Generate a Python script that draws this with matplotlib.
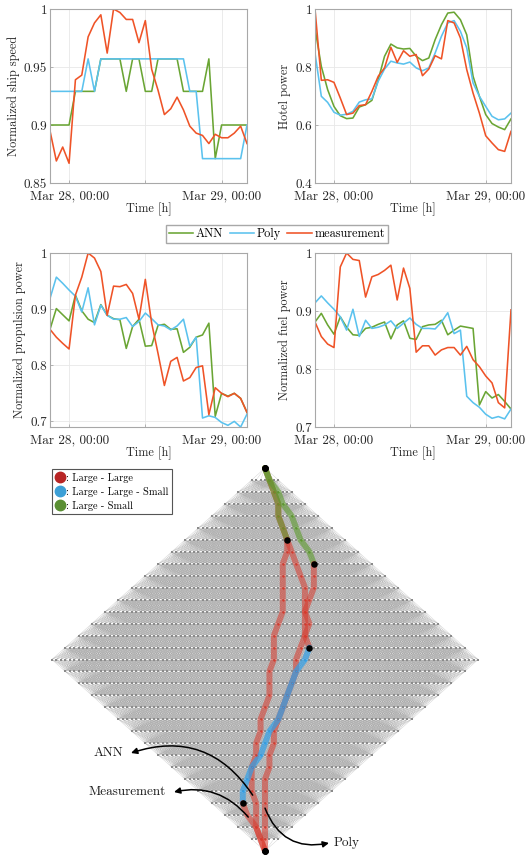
import numpy as np
import matplotlib
matplotlib.use('Agg')
import matplotlib.pyplot as plt
from matplotlib.collections import LineCollection
from matplotlib.lines import Line2D

plt.rcParams['font.family'] = ['cmr10', 'DejaVu Serif']
plt.rcParams['axes.unicode_minus'] = False
plt.rcParams['mathtext.fontset'] = 'cm'

# ---------------- data ----------------
hours = list(range(-3, 29))
xtick_pos = [0, 12, 24]
xtick_labels = ['Mar 28, 00:00', '', 'Mar 29, 00:00']
series_names = ['ANN', 'Poly', 'measurement']

speed_ann = [0.9, 0.9, 0.9, 0.9, 0.929, 0.929, 0.929, 0.929, 0.957, 0.957, 0.957, 0.957,
             0.929, 0.957, 0.957, 0.929, 0.929, 0.957, 0.957, 0.957, 0.957, 0.929, 0.929,
             0.929, 0.929, 0.957, 0.871, 0.9, 0.9, 0.9, 0.9, 0.9]
speed_poly = [0.929, 0.929, 0.929, 0.929, 0.929, 0.929, 0.957, 0.929, 0.957, 0.957, 0.957,
              0.957, 0.957, 0.957, 0.957, 0.957, 0.957, 0.957, 0.957, 0.957, 0.957, 0.957,
              0.929, 0.929, 0.871, 0.871, 0.871, 0.871, 0.871, 0.871, 0.871, 0.9]
speed_meas = [0.895, 0.869, 0.881, 0.867, 0.939, 0.943, 0.976, 0.988, 0.995, 0.962, 1.0,
              0.997, 0.991, 0.991, 0.971, 0.990, 0.948, 0.930, 0.909, 0.914, 0.924, 0.913,
              0.899, 0.893, 0.891, 0.884, 0.892, 0.889, 0.889, 0.893, 0.899, 0.884]

hotel_ann = [0.934, 0.802, 0.722, 0.664, 0.632, 0.622, 0.624, 0.662, 0.670, 0.685, 0.756,
             0.837, 0.879, 0.866, 0.862, 0.864, 0.837, 0.822, 0.831, 0.894, 0.946, 0.986,
             0.989, 0.963, 0.911, 0.768, 0.699, 0.636, 0.605, 0.593, 0.584, 0.621]
hotel_poly = [0.848, 0.699, 0.678, 0.644, 0.634, 0.637, 0.647, 0.679, 0.687, 0.690, 0.751,
              0.793, 0.820, 0.814, 0.810, 0.817, 0.797, 0.787, 0.797, 0.848, 0.906, 0.952,
              0.960, 0.923, 0.866, 0.745, 0.699, 0.664, 0.630, 0.618, 0.621, 0.641]
hotel_meas = [1.0, 0.754, 0.756, 0.747, 0.693, 0.636, 0.641, 0.667, 0.670, 0.716, 0.768,
              0.797, 0.868, 0.816, 0.856, 0.837, 0.843, 0.770, 0.793, 0.839, 0.828, 0.960,
              0.952, 0.900, 0.791, 0.710, 0.641, 0.563, 0.538, 0.515, 0.509, 0.578]

prop_ann = [0.864, 0.901, 0.890, 0.879, 0.925, 0.897, 0.882, 0.876, 0.908, 0.889, 0.883,
            0.881, 0.830, 0.869, 0.882, 0.834, 0.835, 0.871, 0.873, 0.864, 0.865, 0.823,
            0.832, 0.850, 0.854, 0.875, 0.709, 0.750, 0.745, 0.750, 0.741, 0.716]
prop_poly = [0.919, 0.957, 0.946, 0.934, 0.923, 0.895, 0.938, 0.872, 0.907, 0.889, 0.882,
             0.882, 0.885, 0.869, 0.878, 0.893, 0.883, 0.872, 0.870, 0.863, 0.870, 0.882,
             0.834, 0.850, 0.706, 0.710, 0.707, 0.698, 0.693, 0.700, 0.690, 0.713]
prop_meas = [0.864, 0.850, 0.839, 0.829, 0.925, 0.957, 1.0, 0.991, 0.967, 0.889, 0.941,
             0.940, 0.944, 0.928, 0.882, 0.953, 0.875, 0.821, 0.764, 0.807, 0.814, 0.772,
             0.778, 0.796, 0.799, 0.712, 0.760, 0.750, 0.744, 0.750, 0.741, 0.716]

fuel_ann = [0.881, 0.896, 0.876, 0.860, 0.890, 0.872, 0.859, 0.858, 0.870, 0.872, 0.877,
            0.881, 0.852, 0.876, 0.883, 0.853, 0.851, 0.873, 0.876, 0.877, 0.884, 0.859,
            0.867, 0.874, 0.872, 0.870, 0.738, 0.761, 0.750, 0.756, 0.744, 0.731]
fuel_poly = [0.914, 0.926, 0.914, 0.903, 0.890, 0.867, 0.903, 0.856, 0.884, 0.870, 0.872,
             0.876, 0.883, 0.870, 0.879, 0.888, 0.877, 0.870, 0.870, 0.869, 0.881, 0.897,
             0.861, 0.867, 0.753, 0.742, 0.734, 0.722, 0.715, 0.718, 0.714, 0.731]
fuel_meas = [0.881, 0.856, 0.843, 0.837, 0.976, 1.0, 0.989, 0.987, 0.924, 0.959, 0.963,
             0.970, 0.979, 0.919, 0.974, 0.939, 0.829, 0.840, 0.840, 0.824, 0.833, 0.837,
             0.837, 0.824, 0.839, 0.816, 0.804, 0.788, 0.776, 0.742, 0.733, 0.902]

# decision-graph paths: node index (relative to row centre) for each of the 33 stages
path_meas = [0, 1, 3, 4, 6, 7, 8, 10, 11, 11, 11, 10, 9, 9, 9, 10, 9, 7, 6, 5, 4, 3, 1,
             0, -1, -3, -4, -5, -5, -4, -2, -1, 0]
path_ann = [0, 1, 2, 3, 3, 4, 5, 5, 4, 4, 4, 4, 4, 3, 2, 2, 2, 1, 1, 1, 0, -1, -1, -2,
            -2, -3, -3, -3, -2, -2, -2, -1, 0]
path_poly = [0, 1, 2, 3, 3, 4, 5, 6, 7, 8, 9, 9, 9, 10, 9, 8, 7, 7, 6, 5, 4, 3, 2, 2, 1,
             1, 0, 0, 0, 0, 0, 0, 0]
# operating-mode runs along each path: (mode, first stage, last stage)
modes_meas = [('LS', 0, 8), ('LL', 8, 15), ('LLS', 15, 28), ('LL', 28, 32)]
modes_ann = [('LS', 0, 6), ('LL', 6, 32)]
modes_poly = [('LL', 0, 32)]
mode_labels = {'LL': ': Large - Large', 'LLS': ': Large - Large - Small', 'LS': ': Large - Small'}

# ---------------- style ----------------
C_ANN, C_POLY, C_MEAS = '#6aa534', '#5bc2ee', '#ef5327'
MODE_COL = {'LL': '#d8392c', 'LLS': '#2c9fea', 'LS': '#5c9a2c'}
MODE_ALPHA = {'LL': 0.55, 'LLS': 0.68, 'LS': 0.6}
MODE_LEG = {'LL': '#b82525', 'LLS': '#3c9fd6', 'LS': '#5a8f33'}
FRAME = '#a8a8a8'

W, H = 525, 856
fig = plt.figure(figsize=(W / 100, H / 100), dpi=100)


def px_axes(l, t, r, b):
    return fig.add_axes([l / W, 1 - b / H, (r - l) / W, (b - t) / H])


panels = [
    ((50, 9, 247, 183), 'Normalized ship speed', speed_ann, speed_poly, speed_meas,
     (0.85, 1.0), [0.85, 0.9, 0.95, 1.0], ['0.85', '0.9', '0.95', '1']),
    ((315, 9, 511, 183), 'Hotel power', hotel_ann, hotel_poly, hotel_meas,
     (0.4, 1.0), [0.4, 0.6, 0.8, 1.0], ['0.4', '0.6', '0.8', '1']),
    ((50, 253, 247, 427), 'Normalized propulsion power', prop_ann, prop_poly, prop_meas,
     (0.69, 1.0), [0.7, 0.8, 0.9, 1.0], ['0.7', '0.8', '0.9', '1']),
    ((315, 253, 511, 427), 'Normalized fuel power', fuel_ann, fuel_poly, fuel_meas,
     (0.7, 1.0), [0.7, 0.8, 0.9, 1.0], ['0.7', '0.8', '0.9', '1']),
]

handles = None
for box, ylab, a, p, m, ylim, yt, ytl in panels:
    ax = px_axes(*box)
    h1, = ax.plot(hours, a, color=C_ANN, lw=1.15)
    h2, = ax.plot(hours, p, color=C_POLY, lw=1.15)
    h3, = ax.plot(hours, m, color=C_MEAS, lw=1.15)
    handles = [h1, h2, h3]
    ax.set_xlim(hours[0], hours[-1])
    ax.set_ylim(*ylim)
    ax.set_xticks(xtick_pos)
    ax.set_xticklabels(xtick_labels)
    ax.set_yticks(yt)
    ax.set_yticklabels(ytl)
    ax.grid(True, color='#e8e8e8', lw=0.6)
    ax.set_axisbelow(True)
    for s in ax.spines.values():
        s.set_color(FRAME)
        s.set_linewidth(0.8)
    ax.tick_params(direction='in', length=2.5, width=0.6, color=FRAME,
                   labelsize=9.5, labelcolor='#262626', pad=2)
    ax.tick_params(axis='x', pad=5)
    ax.set_ylabel(ylab, fontsize=8.8, color='#262626', labelpad=3)
    ax.set_xlabel('Time [h]', fontsize=8.8, color='#262626', labelpad=0)

fig.legend(handles, series_names, ncol=3, loc='center',
           bbox_to_anchor=(277 / W, 1 - 234 / H), fontsize=8.8, frameon=True,
           fancybox=False, edgecolor=FRAME, framealpha=1, handlelength=2.0,
           handletextpad=0.25, columnspacing=0.5, borderpad=0.2)

# ---------------- decision graph ----------------
ax3 = fig.add_axes([0, 0, 1, 400 / H])
ax3.set_xlim(0, W)
ax3.set_ylim(H, H - 400)
ax3.axis('off')

n_stage = len(path_meas)
mid = (n_stage - 1) // 2
per_side = 3
spacing = 4.44
window = 28.0
cx, y0, dy = 265.0, 468.0, (851.0 - 468.0) / (n_stage - 1)


def row_nodes(r):
    mm = mid - abs(r - mid)
    idx = np.arange(-per_side * mm, per_side * mm + 1)
    return cx + idx * spacing


segs = []
for r in range(n_stage - 1):
    xa, xb = row_nodes(r), row_nodes(r + 1)
    ya, yb = y0 + r * dy, y0 + (r + 1) * dy
    A, B = np.meshgrid(xa, xb)
    A, B = A.ravel(), B.ravel()
    keep = np.abs(A - B) <= window
    A, B = A[keep], B[keep]
    s = np.empty((A.size, 2, 2))
    s[:, 0, 0] = A
    s[:, 0, 1] = ya
    s[:, 1, 0] = B
    s[:, 1, 1] = yb
    segs.append(s)
segs = np.concatenate(segs)
lc = LineCollection(segs, colors='#8c8c8c', linewidths=0.3, alpha=0.42, zorder=1)
ax3.add_collection(lc)

nx, ny = [], []
for r in range(n_stage):
    xs = row_nodes(r)
    nx.extend(xs)
    ny.extend([y0 + r * dy] * len(xs))
ax3.scatter(nx, ny, s=2.0, marker='s', color='#8a8a8a', linewidths=0, zorder=2)


def path_xy(path):
    xs = cx + np.array(path) * spacing
    ys = y0 + np.arange(len(path)) * dy
    return xs, ys


switch_pts = []
for path, modes in [(path_poly, modes_poly), (path_ann, modes_ann), (path_meas, modes_meas)]:
    xs, ys = path_xy(path)
    for md, a0, a1 in modes:
        ax3.plot(xs[a0:a1 + 1], ys[a0:a1 + 1], color=MODE_COL[md], lw=4.3,
                 alpha=MODE_ALPHA[md], solid_capstyle='round', solid_joinstyle='round',
                 zorder=3)
        ax3.scatter(xs[a0:a1 + 1], ys[a0:a1 + 1], s=2.5, color=MODE_COL[md],
                    linewidths=0, zorder=4)
    for md, a0, a1 in modes[1:]:
        switch_pts.append((xs[a0], ys[a0]))
    switch_pts.append((xs[0], ys[0]))
    switch_pts.append((xs[-1], ys[-1]))
sp = np.array(switch_pts)
ax3.scatter(sp[:, 0], sp[:, 1], s=22, color='black', linewidths=0, zorder=6)

# annotations
xa_, ya_ = path_xy(path_ann)
xm_, ym_ = path_xy(path_meas)
xp_, yp_ = path_xy(path_poly)
ap = dict(arrowstyle='-|>', color='black', lw=1.1, mutation_scale=9, shrinkA=0, shrinkB=0)
ax3.annotate('', xy=(131, 753), xytext=(xa_[27] + 1, ya_[27] + 4),
             arrowprops=dict(ap, connectionstyle='arc3,rad=0.38'), zorder=7)
ax3.annotate('', xy=(174, 792), xytext=(xm_[29] + 1, ym_[29] + 2),
             arrowprops=dict(ap, connectionstyle='arc3,rad=0.3'), zorder=7)
ax3.annotate('', xy=(329, 843), xytext=(xp_[28], yp_[28] + 5),
             arrowprops=dict(ap, connectionstyle='arc3,rad=0.42'), zorder=7)
ax3.text(123, 753, 'ANN', ha='right', va='center', fontsize=9.5, color='#1a1a1a')
ax3.text(166, 792, 'Measurement', ha='right', va='center', fontsize=9.5, color='#1a1a1a')
ax3.text(334, 843, 'Poly', ha='left', va='center', fontsize=9.5, color='#1a1a1a')

leg_handles = [Line2D([], [], marker='o', ls='none', ms=7.5, color=MODE_LEG[k]) for k in ['LL', 'LLS', 'LS']]
leg = ax3.legend(leg_handles, [mode_labels[k] for k in ['LL', 'LLS', 'LS']],
                 loc='upper left', bbox_to_anchor=(52 / W, 1 - 469 / H),
                 bbox_transform=fig.transFigure, fontsize=7.4, frameon=True, fancybox=False,
                 edgecolor='#555555', framealpha=1, handlelength=0.8, handletextpad=0.2,
                 borderpad=0.35, labelspacing=0.4, borderaxespad=0)
leg.get_frame().set_linewidth(0.8)

fig.savefig('out.png', dpi=100)
